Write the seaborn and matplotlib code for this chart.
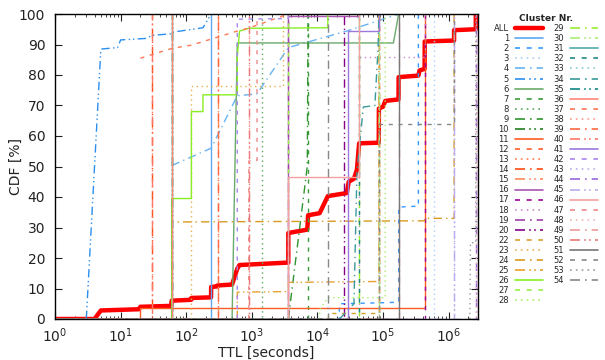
import matplotlib
matplotlib.use("Agg")
import matplotlib.pyplot as plt
import seaborn as sns
import pandas as pd
from matplotlib.lines import Line2D
from matplotlib.ticker import LogLocator, NullFormatter, MultipleLocator, FixedLocator

# ---------------- data ----------------
ALL_TTL = [1, 4, 5, 19, 20, 59, 60, 119, 120, 239, 240, 299, 300, 500, 600, 650,
           3599, 3600, 7000, 7200, 10800, 14400, 28000, 30000, 36000, 40000, 43200,
           86000, 86400, 100000, 108000, 172000, 172800, 345600, 360000, 430000,
           432000, 1209000, 1209600, 2591000, 2592000, 2800000]
ALL_CDF = [0, 0, 2.8, 3.2, 4.0, 4.3, 6.0, 6.3, 6.9, 7.1, 10.5, 10.7, 11.0, 11.3, 16.5, 17.7,
           18.5, 28.2, 29.3, 34.0, 34.7, 40.3, 41.3, 45.0, 46.0, 49.0, 57.6,
           57.8, 69.0, 69.6, 71.5, 72.0, 79.3, 79.8, 81.5, 82.0,
           91.0, 91.3, 94.7, 95.0, 100, 100]

C02_TTL = [1, 21600, 21600, 86400, 172800, 172800, 345600, 345600]
C02_CDF = [0, 0, 5.0, 5.3, 5.5, 36.7, 37.0, 100]
C04_TTL = [60, 240, 600, 1200, 3600, 28800, 172800]
C04_CDF = [50.3, 56.0, 73.2, 73.8, 89.0, 94.5, 100]
C05_TTL = [3, 5, 9, 10, 25, 30, 59, 60, 180, 240]
C05_CDF = [0, 88.5, 89.0, 91.5, 92.0, 93.0, 93.5, 94.0, 95.5, 100]
C06_TTL = [1, 500, 600, 144000, 172800]
C06_CDF = [0, 0, 90.5, 90.5, 100]
C09_TTL = [3600, 7000, 7200]
C09_CDF = [0, 50, 100]
C11_TTL = [1, 20, 20, 432000, 432000]
C11_CDF = [0, 0, 3.6, 3.6, 100]
C16_TTL = [3600, 3600, 43200, 43200]
C16_CDF = [0, 99.3, 99.3, 100]
C18_TTL = [43200, 43200, 432000, 432000]
C18_CDF = [0, 86, 86, 100]
C22_TTL = [14400, 14400, 86400, 86400]
C22_CDF = [0, 2, 2, 100]
C23_TTL = [120, 120, 3000, 3000]
C23_CDF = [0, 76.5, 76.5, 100]
C24_TTL = [60, 60, 430000, 432000, 1209600, 1209600]
C24_CDF = [0, 31.8, 32.2, 33.0, 33.0, 100]
C25_TTL = [600, 600, 3600, 3600, 86400, 86400]
C25_CDF = [0, 8.8, 9.0, 12.0, 12.3, 100]
C26_TTL = [60, 60, 120, 120, 180, 180, 600, 600, 650, 900, 14400, 14400]
C26_CDF = [0, 39.5, 39.5, 68, 68, 73.5, 73.5, 86, 94.4, 95.3, 95.5, 100]
C28_TTL = [10800, 10800, 14400, 108000, 108000]
C28_CDF = [0, 3, 7, 7, 100]
C34_TTL = [21600, 36000, 40000, 50000, 75000, 84000, 86400]
C34_CDF = [0, 5, 48, 69.5, 70, 89, 100]
C37_TTL = [20, 60, 120, 600, 900, 3600]
C37_CDF = [85.5, 88.7, 89.8, 94.4, 95.4, 100]
C41_TTL = [28800, 28800, 86400, 86400]
C41_CDF = [0, 94.4, 94.4, 100]
C42_TTL = [600, 600, 3600, 3600]
C42_CDF = [0, 98.3, 98.5, 100]
C46_TTL = [3600, 3600, 43200, 43200]
C46_CDF = [0, 46.5, 46.5, 100]
C47_TTL = [900, 900, 1200, 1200]
C47_CDF = [0, 51.8, 52.0, 100]
C52_TTL = [86400, 86400, 1209600, 1209600]
C52_CDF = [0, 64, 64, 100]
C53_TTL = [2100000, 2150000, 2592000, 2592000]
C53_CDF = [0, 25, 25, 100]

# clusters whose whole mass sits at one TTL (a single vertical step)
SINGLE_LABELS = ['1', '3', '7', '8', '10', '12', '13', '14', '15', '17', '19', '20',
                 '27', '29', '30', '31', '32', '33', '35', '36', '38', '39', '40',
                 '43', '44', '45', '48', '49', '50', '51', '54']
SINGLE_TTL = [240, 604800, 7200, 1440, 60, 86400, 86400, 30, 300, 432000, 3600, 25200,
              3600, 43200, 86400, 60, 43200, 86400, 60, 60, 900, 300, 30,
              1209600, 2592000, 1209600, 2592000, 172800, 900, 172800, 14400]

CLUSTER_LABELS = [str(i) for i in range(1, 55) if i != 21]
X_TICKS = [1, 10, 100, 1000, 10000, 100000, 1000000]
X_TICK_LABELS = ['$10^{0}$', '$10^{1}$', '$10^{2}$', '$10^{3}$', '$10^{4}$', '$10^{5}$', '$10^{6}$']

# ---------------- styles ----------------
COLORS = {
    '1': '#5ea8f0', '2': '#3399ff', '3': '#a8cff8', '4': '#66b3f2', '5': '#2b8ff0',
    '6': '#6aaa6a', '7': '#3a9a3a', '8': '#5aaa5a', '9': '#2f932f', '10': '#1f7f1f',
    '11': '#ff5a1f', '12': '#ff5a2a', '13': '#ff7a4a', '14': '#ff4a10', '15': '#ff8a5a',
    '16': '#aa55b0', '17': '#990099', '18': '#cc88cc', '19': '#a040a8', '20': '#880088',
    '22': '#d9a030', '23': '#e8b050', '24': '#d99a20', '25': '#e6a030',
    '26': '#88ee22', '27': '#99ee44', '28': '#a8ee66', '29': '#99ee33', '30': '#aaee77',
    '31': '#55aaaa', '32': '#228888', '33': '#88cccc', '34': '#3a9a9a', '35': '#138888',
    '36': '#ff8877', '37': '#ff7755', '38': '#ff9988', '39': '#ff6644', '40': '#ff7766',
    '41': '#9a78dd', '42': '#aa88ee', '43': '#bbaaee', '44': '#9966dd', '45': '#bbaaee',
    '46': '#f4a0a0', '47': '#ee8888', '48': '#f2b4b4', '49': '#ee9999', '50': '#ee7777',
    '51': '#777777', '52': '#888888', '53': '#999999', '54': '#888888'}
DASHES = ['-', (0, (3, 4)), (0, (1, 2.5)), (0, (6, 3, 1, 3)), (0, (6, 2.5, 1, 2, 1, 2.5))]

MULTI = {'2': (C02_TTL, C02_CDF), '4': (C04_TTL, C04_CDF), '5': (C05_TTL, C05_CDF),
         '6': (C06_TTL, C06_CDF), '9': (C09_TTL, C09_CDF), '11': (C11_TTL, C11_CDF),
         '16': (C16_TTL, C16_CDF), '18': (C18_TTL, C18_CDF), '22': (C22_TTL, C22_CDF),
         '23': (C23_TTL, C23_CDF), '24': (C24_TTL, C24_CDF), '25': (C25_TTL, C25_CDF),
         '26': (C26_TTL, C26_CDF), '28': (C28_TTL, C28_CDF), '34': (C34_TTL, C34_CDF),
         '37': (C37_TTL, C37_CDF), '41': (C41_TTL, C41_CDF), '42': (C42_TTL, C42_CDF),
         '46': (C46_TTL, C46_CDF), '47': (C47_TTL, C47_CDF), '52': (C52_TTL, C52_CDF),
         '53': (C53_TTL, C53_CDF)}
for lab, v in zip(SINGLE_LABELS, SINGLE_TTL):
    MULTI[lab] = ([1, v, v], [0, 0, 100])

# ---------------- plot ----------------
sns.set_theme(style="ticks")
plt.rcParams['font.family'] = ['DejaVu Sans']
plt.rcParams['xtick.direction'] = 'in'
plt.rcParams['ytick.direction'] = 'in'

fig = plt.figure(figsize=(6.05, 3.6), dpi=100)
ax = fig.add_axes([55 / 605, 1 - 319 / 360, (478 - 55) / 605, (319 - 14) / 360])
ax.set_xscale('log')

handles = []
sns.lineplot(x=ALL_TTL, y=ALL_CDF, ax=ax, color='#ff0000', lw=3.2, estimator=None,
             sort=False, legend=False)
handles.append(Line2D([], [], color='#ff0000', lw=3.2, label='ALL'))

for lab in CLUSTER_LABELS:
    ttl, cdf = MULTI[lab]
    n = int(lab)
    ls = DASHES[(n - 1) % 5]
    sns.lineplot(x=ttl, y=cdf, ax=ax, color=COLORS[lab], lw=1.0, linestyle=ls,
                 estimator=None, sort=False, legend=False)
    handles.append(Line2D([], [], color=COLORS[lab], lw=1.2, linestyle=ls, label=lab))

# two blank entries so the columns split 28 / 26 like the reference
handles.append(Line2D([], [], linestyle='none', label=' '))
handles.append(Line2D([], [], linestyle='none', label=' '))

ax.set_xlim(1, 2.8e6)
ax.set_ylim(0, 100)
ax.yaxis.set_major_locator(MultipleLocator(10))
ax.xaxis.set_major_locator(FixedLocator(X_TICKS))
ax.set_xticklabels(X_TICK_LABELS)
ax.xaxis.set_minor_locator(LogLocator(base=10, subs=range(2, 10), numticks=100))
ax.xaxis.set_minor_formatter(NullFormatter())
ax.tick_params(axis='both', which='major', direction='in', length=5, width=0.8,
               top=True, right=True, labelsize=10, colors='#222222')
ax.tick_params(axis='y', pad=7)
ax.tick_params(axis='x', which='minor', direction='in', length=2.5, width=0.6,
               top=True, bottom=True)
ax.tick_params(axis='x', which='major', pad=5)
for s in ax.spines.values():
    s.set_color('black')
    s.set_linewidth(1.0)

ax.set_xlabel('TTL [seconds]', fontsize=10, color='#222222', labelpad=1)
ax.set_ylabel('CDF [%]', fontsize=10, color='#222222')
ax.yaxis.set_label_coords(-0.076, 0.5)

leg = fig.legend(handles=handles, labels=[h.get_label() for h in handles], ncol=2,
                 markerfirst=False, fontsize=6, frameon=False,
                 title='Cluster Nr.', title_fontproperties={'weight': 'bold', 'size': 6.5},
                 loc='upper left', bbox_to_anchor=(494 / 605, 1 - 14 / 360),
                 handlelength=3.4, handletextpad=0.7, columnspacing=1.2,
                 labelspacing=0.13, borderpad=0, borderaxespad=0)

fig.savefig('out.png', dpi=100)
